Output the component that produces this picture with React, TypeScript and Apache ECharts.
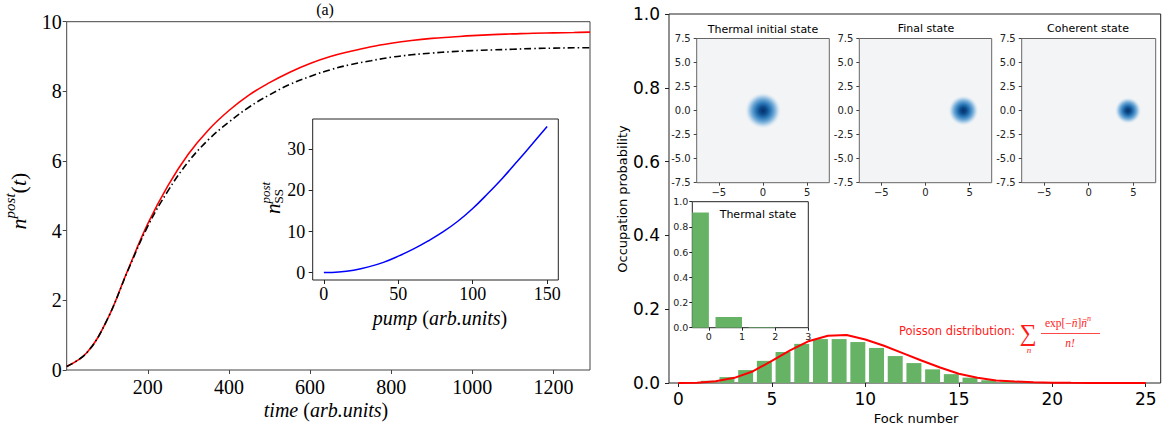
import React, { useEffect, useRef } from "react";
import * as echarts from "echarts";

const SERIF = "Liberation Serif";
const SANS = "DejaVu Sans";

// ---- Panel (a): n^post(t) ----
const timeT = [0, 50, 100, 150, 200, 250, 300, 350, 400, 450, 500, 550, 600, 650, 700, 750, 800, 850, 900, 950, 1000, 1050, 1100, 1150, 1200, 1250, 1290];
const nPostRed = [0.1, 0.5, 1.45, 2.85, 4.2, 5.3, 6.2, 6.9, 7.45, 7.9, 8.25, 8.55, 8.8, 9.0, 9.15, 9.28, 9.38, 9.46, 9.52, 9.56, 9.6, 9.63, 9.65, 9.67, 9.68, 9.69, 9.7];
const nPostBlack = [0.1, 0.5, 1.45, 2.83, 4.13, 5.15, 5.98, 6.62, 7.12, 7.55, 7.9, 8.2, 8.43, 8.62, 8.77, 8.88, 8.98, 9.05, 9.1, 9.14, 9.17, 9.19, 9.21, 9.23, 9.24, 9.25, 9.25];
const timeTicks = [200, 400, 600, 800, 1000, 1200];

// ---- Inset: n_SS^post vs pump ----
const pump = [0, 10, 20, 30, 40, 50, 60, 70, 80, 90, 100, 110, 120, 130, 140, 150];
const nSS = [0, 0.15, 0.6, 1.4, 2.5, 4.0, 5.7, 7.7, 9.9, 12.5, 15.6, 19.2, 23.0, 27.1, 31.3, 35.6];
const pumpTicks = [0, 50, 100, 150];
const nSSTicks = [0, 10, 20, 30];

// ---- Right panel: Fock distributions ----
const finalK = [2, 3, 4, 5, 6, 7, 8, 9, 10, 11, 12, 13, 14, 15, 16, 17, 18, 19, 20];
const finalP = [0.006, 0.016, 0.035, 0.06, 0.084, 0.106, 0.119, 0.119, 0.111, 0.095, 0.073, 0.054, 0.037, 0.024, 0.0145, 0.0075, 0.004, 0.002, 0.001];
const poissonN = [0, 1, 2, 3, 4, 5, 6, 7, 8, 9, 10, 11, 12, 13, 14, 15, 16, 17, 18, 19, 20, 21, 22, 23, 24, 25];
const poissonP = [0.0001, 0.001, 0.005, 0.014, 0.032, 0.06, 0.089, 0.114, 0.128, 0.13, 0.118, 0.101, 0.081, 0.061, 0.042, 0.025, 0.014, 0.007, 0.004, 0.002, 0.001, 0.0004, 0.0002, 0.0001, 0.00003, 0.00001];
const fockTicks = [0, 5, 10, 15, 20, 25];
const thermalK = [0, 1, 2, 3];
const thermalP = [0.915, 0.085, 0.005, 0.0005];
const thermalTicks = [0, 1, 2, 3];

// ---- Wigner panels ----
const wignerTitles = ["Thermal initial state", "Final state", "Coherent state"];
const wignerX = [0, 4.3, 4.4];
const wignerY = [0, 0, 0];
const wignerTicks = [-5, 0, 5];

// ---- text helpers ----
let ctx: CanvasRenderingContext2D | null = null;
function tw(text: string, size: number, family: string, italic: boolean) {
  if (!ctx && typeof document !== "undefined") ctx = document.createElement("canvas").getContext("2d");
  if (!ctx) return text.length * size * 0.5;
  ctx.font = `${italic ? "italic " : ""}${size}px "${family}"`;
  return ctx.measureText(text).width;
}
type Part = { t: string; size: number; italic?: boolean; family?: string; dy?: number; advance?: boolean };
function seq(parts: Part[], cx: number, cy: number, rotation = 0, fill = "#000") {
  const widths = parts.map((p) => tw(p.t, p.size, p.family || SERIF, !!p.italic));
  let total = 0;
  parts.forEach((p, i) => {
    if (p.advance !== false) total += widths[i];
  });
  let x = -total / 2;
  const children = parts.map((p, i) => {
    const el = {
      type: "text",
      x,
      y: p.dy || 0,
      style: {
        text: p.t,
        fontSize: p.size,
        fontFamily: p.family || SERIF,
        fontStyle: p.italic ? "italic" : "normal",
        fill,
        align: "left",
        verticalAlign: "middle",
        textAlign: "left",
        textVerticalAlign: "middle",
      },
    };
    if (p.advance !== false) x += widths[i];
    return el;
  });
  return { type: "group", x: cx, y: cy, rotation, children, z: 100 };
}
function txt(text: string, x: number, y: number, size: number, family: string, opts: any = {}) {
  return {
    type: "text",
    x,
    y,
    z: 100,
    rotation: opts.rotation || 0,
    style: {
      text,
      fontSize: size,
      fontFamily: family,
      fontStyle: opts.italic ? "italic" : "normal",
      fill: opts.fill || "#000",
      align: opts.align || "center",
      verticalAlign: "middle",
      textAlign: opts.align || "center",
      textVerticalAlign: "middle",
    },
  };
}

const makeBarRender = (fill: string) => (params: any, api: any) => {
  const k = api.value(0);
  const p = api.value(1);
  const a = api.coord([k - 0.8, p]);
  const b = api.coord([k, 0]);
  const cs = params.coordSys;
  const rect = echarts.graphic.clipRectByRect(
    { x: a[0], y: a[1], width: b[0] - a[0], height: b[1] - a[1] },
    { x: cs.x, y: cs.y, width: cs.width, height: cs.height }
  );
  if (!rect) return { type: "group", children: [] };
  return { type: "rect", shape: rect, style: { fill } };
};

const minusFmt = (v: number) => (v < 0 ? "\u2212" + Math.abs(v) : String(v));
const plainFmt = (v: number) => String(v);

export default function App() {
  const ref = useRef<HTMLDivElement>(null);
  useEffect(() => {
    if (!ref.current) return;
    const chart = echarts.init(ref.current, null, { renderer: "svg" });

    const wGrids = [
      { left: 696.7, top: 38.5, width: 132.6, height: 144.2 },
      { left: 859.3, top: 38.5, width: 132.4, height: 144.2 },
      { left: 1021.7, top: 38.5, width: 134, height: 144.2 },
    ];
    const grids: any[] = [
      { left: 66.7, top: 21.7, width: 523.3, height: 348.3, show: true, borderColor: "#444", borderWidth: 1, backgroundColor: "transparent" },
      { left: 312.7, top: 119, width: 245.6, height: 161, show: true, borderColor: "#222", borderWidth: 1, backgroundColor: "#fff", z: 5 },
      { left: 669, top: 14, width: 491.7, height: 369, show: true, borderColor: "#222", borderWidth: 1, backgroundColor: "transparent" },
      ...wGrids.map((g) => ({ ...g, show: true, borderColor: "#666", borderWidth: 1, backgroundColor: "#f3f4f5", z: 5 })),
      { left: 692.3, top: 201.7, width: 116, height: 126, show: true, borderColor: "#222", borderWidth: 1, backgroundColor: "#fff", z: 5 },
    ].map((g) => ({ ...g, containLabel: false, outerBoundsMode: "none" }));

    const ax = (o: any) => ({
      type: "value",
      axisLine: { show: false, onZero: false },
      splitLine: { show: false },
      ...o,
    });

    const xAxes: any[] = [
      ax({
        gridIndex: 0, min: 0, max: 1290,
        axisTick: { show: true, length: 4, customValues: timeTicks, lineStyle: { color: "#444" } },
        axisLabel: { customValues: timeTicks, margin: 7, fontFamily: SERIF, fontSize: 20, color: "#000", formatter: plainFmt },
      }),
      ax({
        gridIndex: 1, min: -7.5, max: 157.5, z: 6,
        axisTick: { show: true, length: 4, customValues: pumpTicks, lineStyle: { color: "#222" } },
        axisLabel: { customValues: pumpTicks, margin: 4.5, fontFamily: SERIF, fontSize: 18, color: "#000", formatter: plainFmt },
      }),
      ax({
        gridIndex: 2, min: -0.5, max: 25.8,
        axisTick: { show: true, length: 4, customValues: fockTicks, lineStyle: { color: "#222" } },
        axisLabel: { customValues: fockTicks, margin: 7.5, fontFamily: SANS, fontSize: 17, color: "#000", formatter: plainFmt },
      }),
      ...[3, 4, 5].map((gi) =>
        ax({
          gridIndex: gi, min: -7.5, max: 7.5, z: 6,
          axisTick: { show: true, length: 3, customValues: wignerTicks, lineStyle: { color: "#444" } },
          axisLabel: { customValues: wignerTicks, margin: 5, fontFamily: SANS, fontSize: 10, color: "#222", formatter: minusFmt },
        })
      ),
      ax({
        gridIndex: 6, min: -0.5, max: 3, z: 6,
        axisTick: { show: true, length: 3, customValues: thermalTicks, lineStyle: { color: "#222" } },
        axisLabel: { customValues: thermalTicks, margin: 3.3, fontFamily: SANS, fontSize: 9.5, color: "#222", formatter: plainFmt },
      }),
    ];
    const yAxes: any[] = [
      ax({
        gridIndex: 0, min: 0, max: 10, interval: 2,
        axisTick: { show: true, length: 4, lineStyle: { color: "#444" } },
        axisLabel: { margin: 5, fontFamily: SERIF, fontSize: 20, color: "#000", formatter: plainFmt },
      }),
      ax({
        gridIndex: 1, min: -1.8, max: 37.4, z: 6,
        axisTick: { show: true, length: 4, customValues: nSSTicks, lineStyle: { color: "#222" } },
        axisLabel: { customValues: nSSTicks, margin: 7.5, fontFamily: SERIF, fontSize: 18, color: "#000", formatter: plainFmt },
      }),
      ax({
        gridIndex: 2, min: 0, max: 1, interval: 0.2,
        axisTick: { show: true, length: 4, lineStyle: { color: "#222" } },
        axisLabel: { margin: 9, fontFamily: SANS, fontSize: 17, color: "#000", formatter: (v: number) => v.toFixed(1) },
      }),
      ...[3, 4, 5].map((gi) =>
        ax({
          gridIndex: gi, min: -7.5, max: 7.5, interval: 2.5, z: 6,
          axisTick: { show: true, length: 3, lineStyle: { color: "#444" } },
          axisLabel: { margin: 6, fontFamily: SANS, fontSize: 10, color: "#222", formatter: (v: number) => v.toFixed(1) },
        })
      ),
      ax({
        gridIndex: 6, min: 0, max: 1, interval: 0.2, z: 6,
        axisTick: { show: true, length: 3, lineStyle: { color: "#222" } },
        axisLabel: { margin: 4, fontFamily: SANS, fontSize: 9.5, color: "#222", formatter: (v: number) => v.toFixed(1) },
      }),
    ];

    const blobColor = {
      type: "radial", x: 0.5, y: 0.5, r: 0.5,
      colorStops: [
        { offset: 0, color: "#08306b" },
        { offset: 0.2, color: "#0d4a8a" },
        { offset: 0.4, color: "#2b78b8" },
        { offset: 0.6, color: "#6ba6d4" },
        { offset: 0.8, color: "#c4dcef" },
        { offset: 1, color: "rgba(243,244,245,0)" },
      ],
    };
    const blobSizes = [37, 31, 27];

    const series: any[] = [
      {
        type: "line", xAxisIndex: 0, yAxisIndex: 0, showSymbol: false, smooth: 0.4,
        data: timeT.map((t, i) => [t, nPostRed[i]]),
        lineStyle: { color: "#ff0000", width: 1.6 }, z: 3,
      },
      {
        type: "line", xAxisIndex: 0, yAxisIndex: 0, showSymbol: false, smooth: 0.4,
        data: timeT.map((t, i) => [t, nPostBlack[i]]),
        lineStyle: { color: "#000", width: 1.6, type: [7, 3, 1.5, 3] }, z: 3,
      },
      {
        type: "line", xAxisIndex: 1, yAxisIndex: 1, showSymbol: false, smooth: 0.4,
        data: pump.map((p, i) => [p, nSS[i]]),
        lineStyle: { color: "#0000ff", width: 1.5 }, z: 10,
      },
      {
        type: "custom", xAxisIndex: 2, yAxisIndex: 2,
        data: finalK.map((k, i) => [k, finalP[i]]),
        encode: { x: 0, y: 1 },
        renderItem: makeBarRender("#66b366"), z: 2,
      },
      {
        type: "line", xAxisIndex: 2, yAxisIndex: 2, showSymbol: false,
        data: poissonN.map((n, i) => [n, poissonP[i]]),
        lineStyle: { color: "#ff0000", width: 2 }, z: 4,
      },
      ...wignerX.map((x, i) => ({
        type: "scatter", xAxisIndex: 3 + i, yAxisIndex: 3 + i,
        data: [[x, wignerY[i]]],
        symbol: "circle", symbolSize: blobSizes[i],
        itemStyle: { color: blobColor, opacity: 1 }, z: 10,
      })),
      {
        type: "custom", xAxisIndex: 6, yAxisIndex: 6,
        data: thermalK.map((k, i) => [k, thermalP[i]]),
        encode: { x: 0, y: 1 },
        renderItem: makeBarRender("#66b366"), z: 10,
      },
    ];

    const red = "#ff1a1a";
    const graphic: any[] = [
      txt("(a)", 325, 9, 16, SERIF),
      seq(
        [
          { t: "n", size: 22, italic: true },
          { t: "post", size: 15, italic: true, dy: -8 },
          { t: "(", size: 22 },
          { t: "t", size: 22, italic: true },
          { t: ")", size: 22 },
        ],
        18, 201, Math.PI / 2
      ),
      seq(
        [
          { t: "time", size: 20, italic: true },
          { t: " (", size: 20 },
          { t: "arb.units", size: 20, italic: true },
          { t: ")", size: 20 },
        ],
        326, 410
      ),
      seq(
        [
          { t: "pump", size: 20, italic: true },
          { t: " (", size: 20 },
          { t: "arb.units", size: 20, italic: true },
          { t: ")", size: 20 },
        ],
        440, 318
      ),
      seq(
        [
          { t: "n", size: 21, italic: true },
          { t: "SS", size: 13, dy: 5, advance: false },
          { t: "post", size: 13, italic: true, dy: -8 },
        ],
        273, 198, Math.PI / 2
      ),
      txt("Occupation probability", 622, 199, 13, SANS, { rotation: Math.PI / 2 }),
      txt("Fock number", 916, 418, 13, SANS),
      txt(wignerTitles[0], 763, 29, 11, SANS),
      txt(wignerTitles[1], 926, 28, 11, SANS),
      txt(wignerTitles[2], 1088, 28, 11, SANS),
      txt("Thermal state", 758, 214, 11, SANS),
      txt("Poisson distribution:", 899, 331, 11.5, SANS, { align: "left", fill: red }),
      txt("\u2211", 1028, 333, 24, SERIF, { fill: red }),
      txt("n", 1029, 350, 9, SERIF, { italic: true, fill: red }),
      seq(
        [
          { t: "exp[\u2212", size: 11.5 },
          { t: "n\u0304", size: 11.5, italic: true },
          { t: "]", size: 11.5 },
          { t: "n\u0304", size: 11.5, italic: true },
          { t: "n", size: 8, italic: true, dy: -5 },
        ],
        1068, 323, 0, red
      ),
      { type: "line", z: 100, shape: { x1: 1041, y1: 333.5, x2: 1100, y2: 333.5 }, style: { stroke: red, lineWidth: 0.8 } },
      txt("n!", 1070, 343, 11.5, SERIF, { italic: true, fill: red }),
    ];

    chart.setOption({
      animation: false,
      backgroundColor: "#fff",
      grid: grids,
      xAxis: xAxes,
      yAxis: yAxes,
      series,
      graphic: { elements: graphic },
    });
    return () => chart.dispose();
  }, []);
  return <div ref={ref} style={{ position: "absolute", left: 0, top: 0, width: 1165, height: 432 }} />;
}
